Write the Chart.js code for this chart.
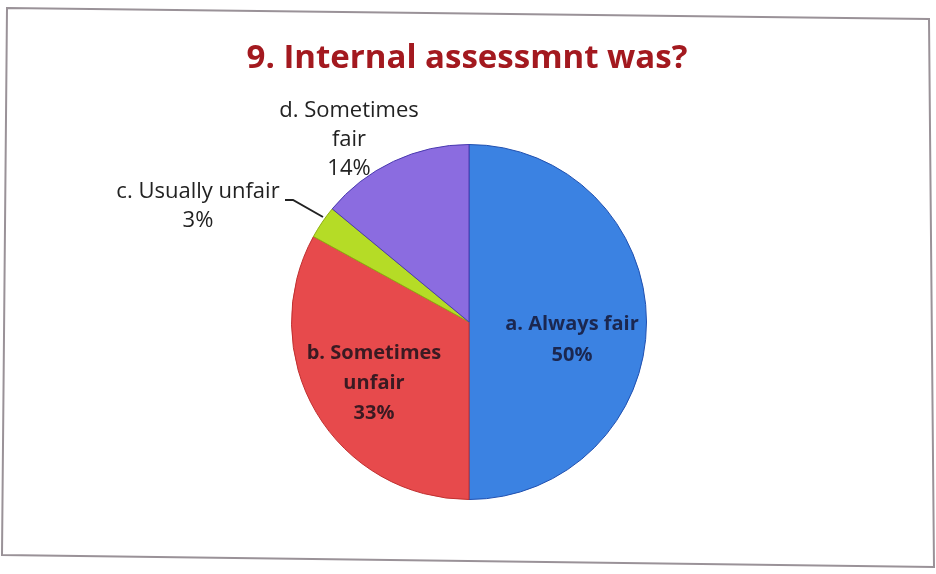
<!DOCTYPE html>
<html>
<head>
<meta charset="utf-8">
<script src="https://cdn.jsdelivr.net/npm/chart.js@4"></script>
<style>
html,body{margin:0;padding:0;background:#fff;}
#wrap{width:936px;height:574px;position:relative;}
</style>
</head>
<body>
<div id="wrap"><canvas id="c" width="936" height="574"></canvas></div>
<script>
const titleText = "9. Internal assessmnt was?";
const categories = ["a. Always fair", "b. Sometimes unfair", "c. Usually unfair", "d. Sometimes fair"];
const values = [50, 33, 3, 14];
const percentLabels = ["50%", "33%", "3%", "14%"];
const colors = ["#3b82e2", "#e74a4c", "#b5dc26", "#8b6ce0"];
const borders = ["#2050b0", "#c03030", "#90b010", "#4a3ab0"];

// label layout: lines, centre x, first baseline y, line height, font, colour
const labelLayout = [
  {lines:["a. Always fair","50%"], x:572, y:330, lh:31, font:"bold 20px 'Open Sans'", color:"#1b2750"},
  {lines:["b. Sometimes","unfair","33%"], x:374, y:359, lh:30, font:"bold 20px 'Open Sans'", color:"#3a1a22"},
  {lines:["c. Usually unfair","3%"], x:198, y:198, lh:29, font:"22px 'Open Sans'", color:"#222"},
  {lines:["d. Sometimes","fair","14%"], x:349, y:117, lh:29, font:"22px 'Open Sans'", color:"#222"}
];

const decor = {
  id:'decor',
  beforeDraw(chart){
    const ctx = chart.ctx;
    ctx.save();
    ctx.fillStyle = '#fff';
    ctx.fillRect(0,0,chart.width,chart.height);
    ctx.strokeStyle = '#9a9298';
    ctx.lineWidth = 2;
    ctx.beginPath();
    ctx.moveTo(7,8);
    ctx.lineTo(929,19);
    ctx.lineTo(934,567);
    ctx.lineTo(2,555);
    ctx.closePath();
    ctx.stroke();
    ctx.restore();
  },
  afterDraw(chart){
    const ctx = chart.ctx;
    ctx.save();
    ctx.textAlign = 'center';
    ctx.textBaseline = 'alphabetic';
    ctx.fillStyle = '#a3191f';
    ctx.font = "bold 33px 'Open Sans'";
    ctx.fillText(titleText, 467, 68);
    labelLayout.forEach(l=>{
      ctx.font = l.font;
      ctx.fillStyle = l.color;
      l.lines.forEach((t,i)=>ctx.fillText(t, l.x, l.y + i*l.lh));
    });
    // leader line for c
    ctx.strokeStyle = '#222';
    ctx.lineWidth = 2;
    ctx.beginPath();
    ctx.moveTo(285,200);
    ctx.lineTo(293,200);
    ctx.lineTo(323,217);
    ctx.stroke();
    ctx.restore();
  }
};

new Chart(document.getElementById('c'), {
  type:'pie',
  data:{
    labels:categories,
    datasets:[{data:values, backgroundColor:colors, borderColor:borders, borderWidth:1}]
  },
  options:{
    responsive:false,
    animation:false,
    layout:{padding:{top:144,bottom:74,left:2,right:0}},
    plugins:{legend:{display:false}, tooltip:{enabled:false}, title:{display:false}}
  },
  plugins:[decor]
});
</script>
</body>
</html>
